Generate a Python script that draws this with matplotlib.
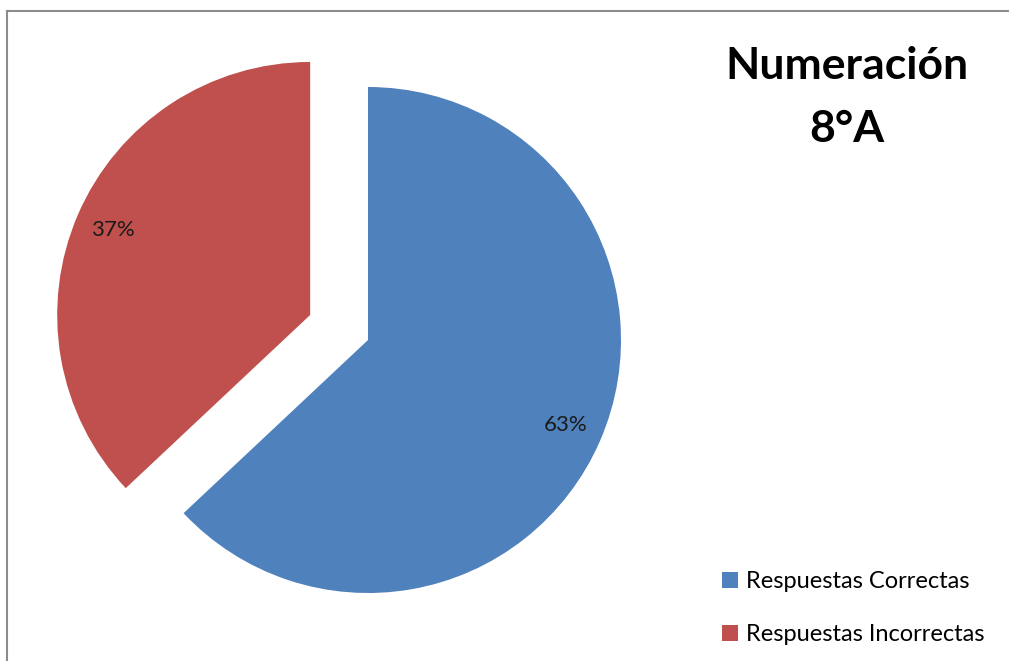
import matplotlib.pyplot as plt
from matplotlib.lines import Line2D

plt.rcParams["font.family"] = ["Lato", "DejaVu Sans"]

labels = ["Respuestas Correctas", "Respuestas Incorrectas"]
values = [63, 37]
colors = ["#4F81BD", "#C0504D"]
explode = [0, 63]

W, H = 1009, 661

fig = plt.figure(figsize=(W / 100, H / 100), dpi=100)
ax = fig.add_axes([0, 0, 1, 1])

wedges, _, autotexts = ax.pie(
    values,
    colors=colors,
    explode=explode,
    center=(368, H - 340),
    radius=253,
    startangle=90,
    counterclock=False,
    autopct="%1.0f%%",
    pctdistance=0.85,
    frame=True,
    textprops={"fontsize": 16, "color": "#1a1a1a"},
)
ax.set_xlim(0, W)
ax.set_ylim(0, H)
ax.set_aspect("equal")
ax.axis("off")

# chart area border: only top and left edges fall inside the image
border = dict(transform=fig.transFigure, color="#8c8c8c", linewidth=1.5)
fig.add_artist(Line2D([7 / W, 1.0], [1 - 11 / H, 1 - 11 / H], **border))
fig.add_artist(Line2D([7 / W, 7 / W], [0.0, 1 - 11 / H], **border))

fig.text(847 / W, 1 - 79 / H, "Numeración", ha="center", va="baseline",
         fontsize=32, fontweight="bold")
fig.text(847 / W, 1 - 142 / H, "8°A", ha="center", va="baseline",
         fontsize=32, fontweight="bold")

ax.legend(wedges, labels, loc="upper left",
          bbox_to_anchor=(713 / W, 1 - 562 / H), frameon=False,
          fontsize=17, handlelength=0.64, handleheight=0.64,
          handletextpad=0.35, labelspacing=1.35, borderaxespad=0)

fig.savefig("out.png", dpi=100)
